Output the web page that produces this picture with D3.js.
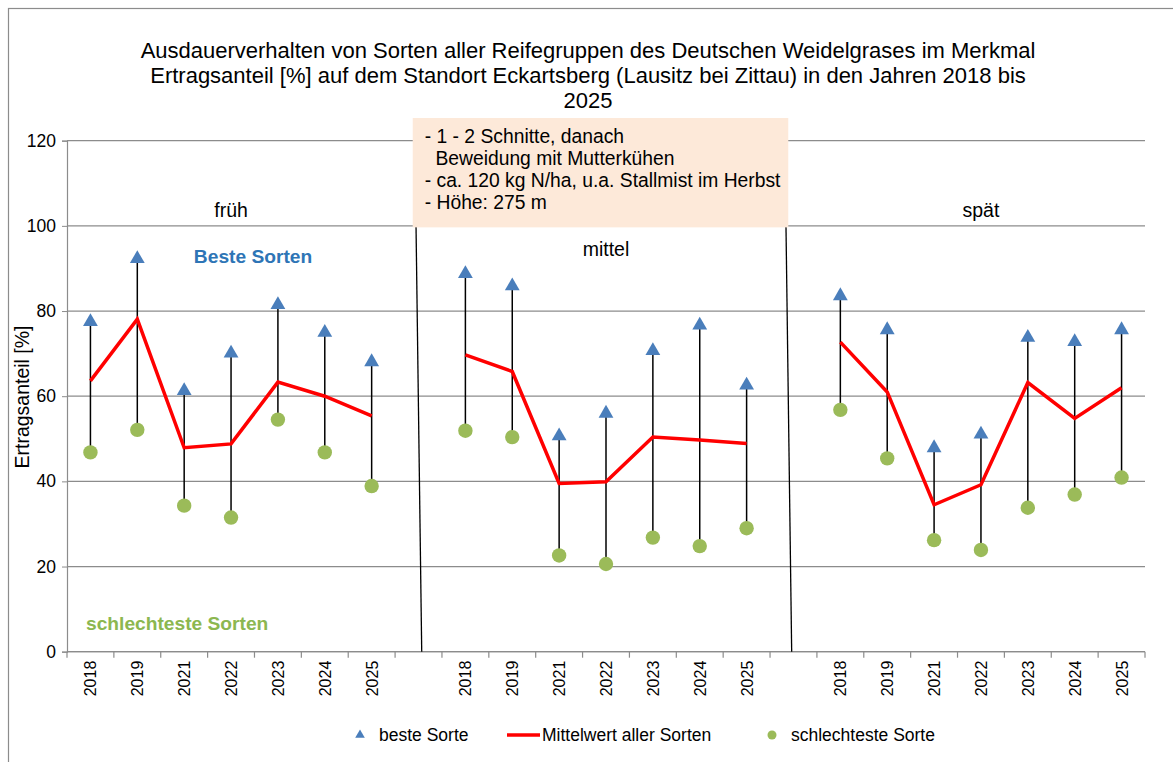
<!DOCTYPE html>
<html><head><meta charset="utf-8">
<script src="https://cdn.jsdelivr.net/npm/d3@7"></script>
<style>body{margin:0;background:#fff;} svg{display:block;font-family:"Liberation Sans",Arial,sans-serif;}</style>
</head><body>
<svg id="chart" width="1173" height="762"></svg>
<script>
const years = ["2018","2019","2021","2022","2023","2024","2025"];
const groups = ["früh","mittel","spät"];
const best_frueh  = [77.7, 92.5, 61.5, 70.3, 81.7, 75.2, 68.3];
const mean_frueh  = [63.6, 78.1, 47.9, 48.8, 63.3, 60.0, 55.4];
const worst_frueh = [46.8, 52.1, 34.3, 31.5, 54.5, 46.8, 38.9];
const best_mittel  = [89.0, 86.1, 50.9, 56.2, 70.9, 76.9, 62.8];
const mean_mittel  = [69.7, 65.8, 39.5, 39.9, 50.4, 49.7, 48.9];
const worst_mittel = [51.9, 50.4, 22.6, 20.6, 26.8, 24.8, 29.0];
const best_spaet  = [83.8, 75.8, 48.1, 51.3, 74.0, 73.0, 75.8];
const mean_spaet  = [72.7, 61.0, 34.5, 39.2, 63.2, 54.8, 62.0];
const worst_spaet = [56.8, 45.4, 26.2, 23.9, 33.8, 36.9, 40.9];
const yTicks = [0,20,40,60,80,100,120];
const titleLines = ["Ausdauerverhalten von Sorten aller Reifegruppen des Deutschen Weidelgrases im Merkmal",
  "Ertragsanteil [%] auf dem Standort Eckartsberg (Lausitz bei Zittau) in den Jahren 2018 bis","2025"];
const noteLines = ["- 1 - 2 Schnitte, danach","  Beweidung mit Mutterkühen","- ca. 120 kg N/ha, u.a. Stallmist im Herbst","- Höhe: 275 m"];
const yLabel = "Ertragsanteil [%]";
const legendItems = ["beste Sorte","Mittelwert aller Sorten","schlechteste Sorte"];

const series = [
  {g:"früh", best:best_frueh, mean:mean_frueh, worst:worst_frueh},
  {g:"mittel", best:best_mittel, mean:mean_mittel, worst:worst_mittel},
  {g:"spät", best:best_spaet, mean:mean_spaet, worst:worst_spaet}
];
const keys = [];
series.forEach((s,i)=>{ years.forEach(y=>keys.push(s.g+"|"+y)); if(i<2) keys.push("gap"+i); });

const svg = d3.select("#chart");
const L=67, R=1145, T=140.7, B=651.7;
const x = d3.scaleBand().domain(keys).range([L,R]).padding(0);
const y = d3.scaleLinear().domain([0,120]).range([B,T]);
const cx = k => x(k)+x.bandwidth()/2;

// outer border
svg.append("rect").attr("x",8.5).attr("y",8.5).attr("width",1180).attr("height",770)
  .attr("fill","none").attr("stroke","#8c8c8c").attr("stroke-width",1.2);

// title
svg.append("g").selectAll("text").data(titleLines).join("text")
  .attr("x",588).attr("y",(d,i)=>58+i*25).attr("text-anchor","middle")
  .attr("font-size",22).attr("fill","#000").text(d=>d);

// gridlines
svg.append("g").selectAll("line").data(yTicks).join("line")
  .attr("x1",L).attr("x2",R).attr("y1",d=>y(d)).attr("y2",d=>y(d))
  .attr("stroke","#8c8c8c").attr("stroke-width",1.2);

// y axis
const ya = svg.append("g").attr("transform",`translate(${L},0)`)
  .call(d3.axisLeft(y).tickValues(yTicks).tickSize(5).tickPadding(6));
ya.select(".domain").attr("stroke","#8c8c8c").attr("stroke-width",1.2);
ya.selectAll(".tick line").attr("stroke","#8c8c8c");
ya.selectAll("text").attr("font-size",17.5).attr("fill","#000").attr("font-family","Liberation Sans, Arial, sans-serif");

// x axis
const boundaries = keys.map(k=>x(k)).concat([R]);
const xa = svg.append("g");
xa.append("line").attr("x1",L).attr("x2",R).attr("y1",B).attr("y2",B).attr("stroke","#8c8c8c").attr("stroke-width",1.2);
xa.selectAll("line.tk").data(boundaries).join("line").attr("class","tk")
  .attr("x1",d=>d).attr("x2",d=>d).attr("y1",B).attr("y2",B+6).attr("stroke","#8c8c8c").attr("stroke-width",1.2);
xa.selectAll("text").data(keys.filter(k=>k.includes("|"))).join("text")
  .attr("transform",k=>`translate(${cx(k)+6},${B+9}) rotate(-90)`)
  .attr("text-anchor","end").attr("font-size",16).attr("fill","#000").text(k=>k.split("|")[1]);

// y label
svg.append("text").attr("transform",`translate(29,${397}) rotate(-90)`)
  .attr("text-anchor","middle").attr("font-size",19.5).attr("fill","#000").text(yLabel);

// dividers
[["gap0",-2.5,3.2],["gap1",-7.5,-1.8]].forEach(([g,a,b])=>{
  svg.append("line").attr("x1",cx(g)+a).attr("y1",y(100)).attr("x2",cx(g)+b).attr("y2",B)
    .attr("stroke","#000").attr("stroke-width",1.3);
});

// note box
const bx0 = cx("gap0")-5.8, bx1 = cx("gap1")-5.2;
svg.append("rect").attr("x",bx0).attr("y",118).attr("width",bx1-bx0).attr("height",y(100)+1.5-118)
  .attr("fill","#fde9d9");
svg.append("g").selectAll("text").data(noteLines).join("text")
  .attr("x",bx0+12).attr("y",(d,i)=>142.5+i*22.3).attr("font-size",19.3).attr("fill","#000")
  .attr("xml:space","preserve").style("white-space","pre").text(d=>d);

// group labels
const groupLabelPos = [{g:"früh",v:102},{g:"mittel",v:93},{g:"spät",v:102}];
groupLabelPos.forEach((p,i)=>{
  const k = p.g+"|2022";
  svg.append("text").attr("x",cx(k)).attr("y",y(p.v)).attr("text-anchor","middle")
    .attr("font-size",19.5).attr("fill","#000").text(p.g);
});

// annotation texts
svg.append("text").attr("x",cx("früh|2022")+22).attr("y",y(91.3)).attr("text-anchor","middle")
  .attr("font-size",19.2).attr("font-weight","bold").attr("fill","#2e75b6").text("Beste Sorten");
svg.append("text").attr("x",cx("früh|2021")-7).attr("y",y(5.2)).attr("text-anchor","middle")
  .attr("font-size",19.2).attr("font-weight","bold").attr("fill","#8cb750").text("schlechteste Sorten");

// data
const pts = [];
series.forEach(s=>years.forEach((yr,i)=>pts.push({k:s.g+"|"+yr, best:s.best[i], mean:s.mean[i], worst:s.worst[i], g:s.g})));

svg.append("g").selectAll("line").data(pts).join("line")
  .attr("x1",d=>cx(d.k)).attr("x2",d=>cx(d.k)).attr("y1",d=>y(d.worst)).attr("y2",d=>y(d.best))
  .attr("stroke","#000").attr("stroke-width",1.5);

const line = d3.line().x(d=>cx(d.k)).y(d=>y(d.mean));
svg.append("g").selectAll("path").data(groups).join("path")
  .attr("d",g=>line(pts.filter(p=>p.g===g))).attr("fill","none").attr("stroke","#ff0000").attr("stroke-width",3.5)
  .attr("stroke-linejoin","miter");

const tri = d3.symbol().type(d3.symbolTriangle).size(95);
svg.append("g").selectAll("path").data(pts).join("path")
  .attr("transform",d=>`translate(${cx(d.k)},${y(d.best)+1})`).attr("d",tri()).attr("fill","#4a7ebb");
svg.append("g").selectAll("circle").data(pts).join("circle")
  .attr("cx",d=>cx(d.k)).attr("cy",d=>y(d.worst)).attr("r",7.2).attr("fill","#9bbb59");

// legend
const lg = svg.append("g");
const ly = 735;
lg.append("path").attr("transform",`translate(360,${ly})`).attr("d",d3.symbol().type(d3.symbolTriangle).size(40)()).attr("fill","#4a7ebb");
lg.append("text").attr("x",379).attr("y",ly+6).attr("font-size",17.5).text(legendItems[0]);
lg.append("line").attr("x1",507).attr("x2",540).attr("y1",ly).attr("y2",ly).attr("stroke","#ff0000").attr("stroke-width",3.5);
lg.append("text").attr("x",542).attr("y",ly+6).attr("font-size",17.5).text(legendItems[1]);
lg.append("circle").attr("cx",772).attr("cy",ly).attr("r",4.5).attr("fill","#9bbb59");
lg.append("text").attr("x",791).attr("y",ly+6).attr("font-size",17.5).text(legendItems[2]);
</script>
</body></html>
